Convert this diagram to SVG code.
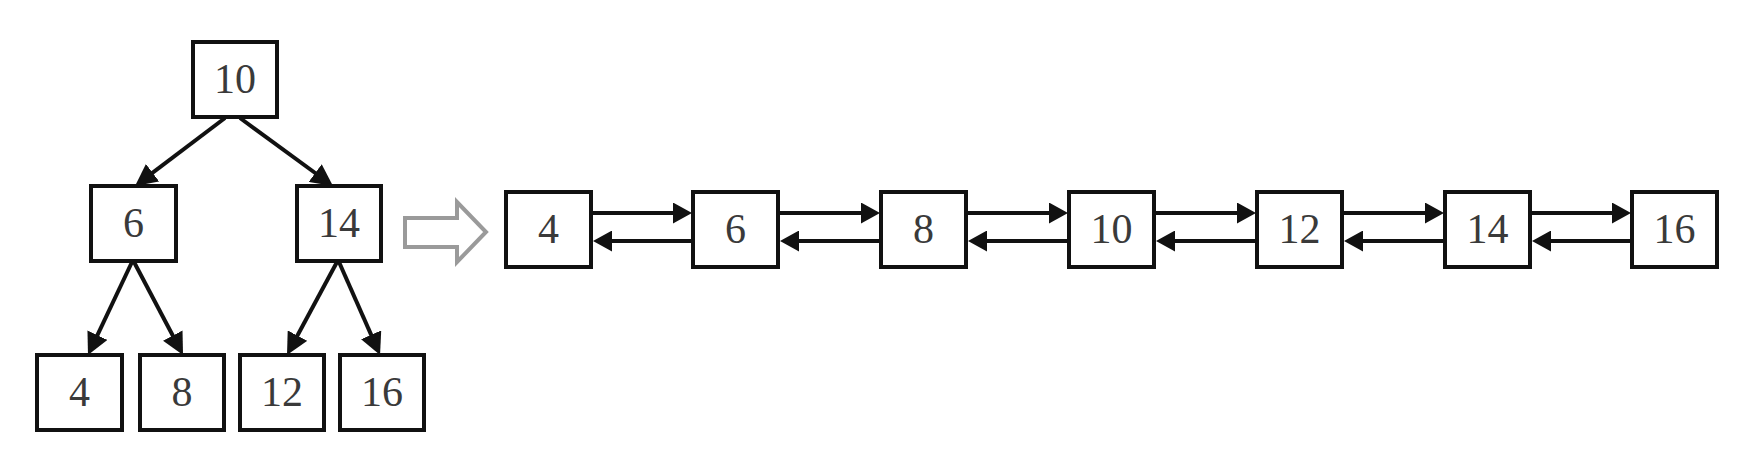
<svg xmlns="http://www.w3.org/2000/svg" width="1758" height="460" viewBox="0 0 1758 460">
<style>
.box{fill:#fff;stroke:#111;stroke-width:4}
.lbl{font-family:"Liberation Serif","Times New Roman",serif;font-size:42px;fill:#3a3a3a;text-anchor:middle}
.t{stroke:#111;stroke-width:4;fill:none;marker-end:url(#ah)}
.l{stroke:#111;stroke-width:4;fill:none;marker-end:url(#al)}
</style>
<defs>
<marker id="ah" markerUnits="userSpaceOnUse" markerWidth="22" markerHeight="22" refX="11" refY="11" orient="auto"><path d="M0,0 L22,11 L0,22 Z" fill="#111"/></marker>
<marker id="al" markerUnits="userSpaceOnUse" markerWidth="20" markerHeight="21" refX="9" refY="10.5" orient="auto"><path d="M0,0 L19,10.5 L0,21 Z" fill="#111"/></marker>
</defs>
<rect width="1758" height="460" fill="#fff"/>
<g id="connectors">
<line class="t" x1="225" y1="118" x2="143.8" y2="179.4"/>
<line class="t" x1="240" y1="118" x2="324.1" y2="179.5"/>
<line class="t" x1="132" y1="262" x2="92.7" y2="345.1"/>
<line class="t" x1="134" y1="262" x2="177.9" y2="345.3"/>
<line class="t" x1="337" y1="262" x2="292.2" y2="345.3"/>
<line class="t" x1="339" y1="262" x2="375.6" y2="344.9"/>
<polygon points="405,218 457,218 457,202 486,232 457,262 457,247 405,247" fill="#fff" stroke="#9a9a9a" stroke-width="4"/>
<line class="l" x1="591" y1="213" x2="682" y2="213"/><line class="l" x1="693" y1="241" x2="603" y2="241"/>
<line class="l" x1="778" y1="213" x2="870" y2="213"/><line class="l" x1="881" y1="241" x2="790" y2="241"/>
<line class="l" x1="966" y1="213" x2="1058" y2="213"/><line class="l" x1="1069" y1="241" x2="978" y2="241"/>
<line class="l" x1="1154" y1="213" x2="1246" y2="213"/><line class="l" x1="1257" y1="241" x2="1166" y2="241"/>
<line class="l" x1="1342" y1="213" x2="1434" y2="213"/><line class="l" x1="1445" y1="241" x2="1354" y2="241"/>
<line class="l" x1="1530" y1="213" x2="1621" y2="213"/><line class="l" x1="1632" y1="241" x2="1542" y2="241"/>
</g>
<g id="t10"><rect class="box" x="193" y="42" width="84" height="75"/><text class="lbl" x="235" y="93">10</text></g>
<g id="t6"><rect class="box" x="91" y="186" width="85" height="75"/><text class="lbl" x="133.5" y="237">6</text></g>
<g id="t14"><rect class="box" x="297" y="186" width="84" height="75"/><text class="lbl" x="339" y="237">14</text></g>
<g id="t4"><rect class="box" x="37" y="355" width="85" height="75"/><text class="lbl" x="79.5" y="406">4</text></g>
<g id="t8"><rect class="box" x="140" y="355" width="84" height="75"/><text class="lbl" x="182" y="406">8</text></g>
<g id="t12"><rect class="box" x="240" y="355" width="84" height="75"/><text class="lbl" x="282" y="406">12</text></g>
<g id="t16"><rect class="box" x="340" y="355" width="84" height="75"/><text class="lbl" x="382" y="406">16</text></g>
<g id="l4"><rect class="box" x="506" y="192" width="85" height="75"/><text class="lbl" x="548.5" y="243">4</text></g>
<g id="l6"><rect class="box" x="693" y="192" width="85" height="75"/><text class="lbl" x="735.5" y="243">6</text></g>
<g id="l8"><rect class="box" x="881" y="192" width="85" height="75"/><text class="lbl" x="923.5" y="243">8</text></g>
<g id="l10"><rect class="box" x="1069" y="192" width="85" height="75"/><text class="lbl" x="1111.5" y="243">10</text></g>
<g id="l12"><rect class="box" x="1257" y="192" width="85" height="75"/><text class="lbl" x="1299.5" y="243">12</text></g>
<g id="l14"><rect class="box" x="1445" y="192" width="85" height="75"/><text class="lbl" x="1487.5" y="243">14</text></g>
<g id="l16"><rect class="box" x="1632" y="192" width="85" height="75"/><text class="lbl" x="1674.5" y="243">16</text></g>
</svg>
